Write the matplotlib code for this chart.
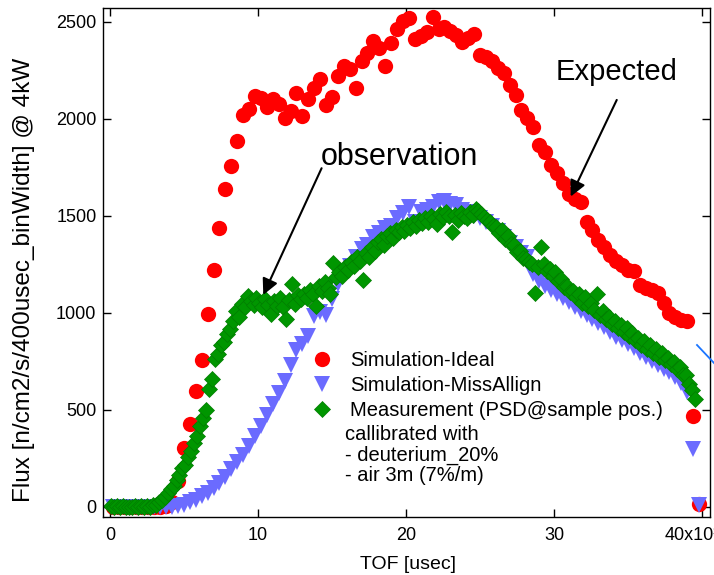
import numpy as np
import matplotlib.pyplot as plt
from matplotlib.lines import Line2D

plt.rcParams['font.family'] = ['Liberation Sans', 'DejaVu Sans']

# time bins [usec x10^3], 0.4 steps for the simulations, 0.2 for the measurement
sim_tof = np.arange(0.2, 40.0, 0.4)
meas_tof = np.arange(0.1, 39.6, 0.2)

red_flux = [
    0, 0, 0, 0, 0, 0, 0, 0, 0, 5,
    25, 135, 306, 426, 598, 756, 993, 1220, 1438, 1637,
    1758, 1886, 2020, 2052, 2117, 2107, 2064, 2101, 2077, 2005,
    2043, 2132, 2015, 2101, 2158, 2205, 2070, 2113, 2222, 2272,
    2257, 2158, 2298, 2342, 2402, 2368, 2273, 2390, 2464, 2505,
    2519, 2411, 2430, 2450, 2528, 2464, 2476, 2455, 2433, 2399,
    2416, 2438, 2330, 2320, 2300, 2265, 2235, 2175, 2124, 2046,
    2003, 1960, 1866, 1831, 1763, 1720, 1672, 1613, 1585, 1574,
    1470, 1428, 1376, 1342, 1299, 1270, 1247, 1222, 1215, 1144,
    1130, 1120, 1101, 1050, 1000, 981, 963, 960, 470, 15,
]

blue_flux = [
    0, 0, 0, 0, 0, 0, 0, 0, 0, 0,
    2, 5, 12, 24, 38, 55, 72, 98, 124, 153,
    193, 231, 270, 313, 365, 416, 476, 528, 588, 648,
    730, 810, 840, 880, 985, 1007, 990, 1070, 1150, 1200,
    1240, 1290, 1330, 1350, 1390, 1410, 1440, 1450, 1490, 1515,
    1548, 1470, 1520, 1530, 1545, 1574, 1575, 1560, 1555, 1530,
    1520, 1500, 1490, 1470, 1450, 1420, 1390, 1360, 1340, 1310,
    1290, 1200, 1165, 1140, 1120, 1100, 1078, 1055, 1030, 1010,
    990, 968, 948, 928, 900, 878, 858, 838, 818, 795,
    772, 750, 730, 712, 695, 672, 640, 590, 300, 10,
]

green_flux = [
    5, 0, 3, 0, 4, 0, 2, 0, 5, 0,
    3, 0, 6, 2, 8, 12, 25, 38, 50, 70,
    90, 110, 140, 165, 200, 215, 255, 290, 330, 365,
    415, 460, 500, 610, 660, 760, 790, 835, 850, 890,
    915, 960, 1010, 980, 1045, 1030, 1085, 1060, 1040, 1075,
    1050, 1030, 1070, 1040, 995, 1060, 1035, 1075, 1030, 970,
    1065, 1150, 1045, 1090, 1070, 1100, 1075, 1120, 1095, 1035,
    1140, 1115, 1160, 1130, 1100, 1255, 1185, 1210, 1190, 1235,
    1220, 1265, 1240, 1290, 1270, 1170, 1310, 1290, 1340, 1320,
    1365, 1380, 1350, 1395, 1410, 1385, 1430, 1415, 1445, 1420,
    1455, 1440, 1470, 1450, 1480, 1465, 1490, 1470, 1500, 1485,
    1460, 1510, 1495, 1520, 1500, 1415, 1505, 1480, 1515, 1500,
    1490, 1520, 1505, 1535, 1525, 1510, 1495, 1480, 1470, 1450,
    1445, 1410, 1425, 1380, 1395, 1355, 1350, 1315, 1320, 1285,
    1280, 1265, 1250, 1105, 1235, 1340, 1250, 1215, 1225, 1190,
    1210, 1165, 1175, 1135, 1140, 1110, 1115, 1080, 1095, 1050,
    1080, 1035, 1050, 1015, 1095, 990, 1010, 970, 980, 945,
    960, 920, 940, 900, 920, 880, 895, 860, 870, 835,
    855, 815, 835, 795, 815, 775, 795, 755, 770, 735,
    745, 710, 720, 680, 680, 635, 605, 555,
]

x_ticks = [0, 10, 20, 30, 40]
x_ticklabels = ['0', '10', '20', '30', '']
y_ticks = [0, 500, 1000, 1500, 2000, 2500]

fig = plt.figure(figsize=(7.14, 5.75), dpi=100)
ax = fig.add_axes([0.1438, 0.1009, 0.8506, 0.8852])

ax.plot(sim_tof, red_flux, 'o', color='#ff0000', ms=11, mew=0,
        label='Simulation-Ideal')
ax.plot(sim_tof, blue_flux, 'v', color='#6b6bff', ms=11, mew=0,
        label='Simulation-MissAllign')
ax.plot(meas_tof, green_flux, 'D', color='#009600', mec='#007d00', ms=8, mew=0.5,
        label='Measurement (PSD@sample pos.)')

ax.set_xlim(-0.49, 40.54)
ax.set_ylim(-52, 2572)
ax.set_xticks(x_ticks)
ax.set_xticklabels(x_ticklabels)
ax.set_yticks(y_ticks)
ax.tick_params(direction='in', top=True, right=True, length=6, width=1,
               labelsize=13)
ax.tick_params(axis='x', pad=7)
ax.tick_params(axis='y', pad=4.5)
for s in ax.spines.values():
    s.set_linewidth(1.0)

fig.text(665 / 714, 1 - 536 / 575, '40x10³', fontsize=13, ha='left', va='center')

ax.set_xlabel('TOF [usec]', fontsize=14)
ax.xaxis.set_label_coords(0.5027, -0.077)
ax.set_ylabel('Flux [n/cm2/s/400usec_binWidth] @ 4kW', fontsize=17.5)
ax.yaxis.set_label_coords(-0.112, 0.4656)

# annotations
ax.text(19.53, 1804, 'observation', fontsize=22, ha='center', va='center')
ax.annotate('', xy=(10.36, 1093), xytext=(14.3, 1746),
            arrowprops=dict(arrowstyle='-|>', color='k', lw=1.5,
                            mutation_scale=24, shrinkA=0, shrinkB=0))
ax.text(34.26, 2242, 'Expected', fontsize=21, ha='center', va='center')
ax.annotate('', xy=(31.13, 1600), xytext=(34.24, 2098),
            arrowprops=dict(arrowstyle='-|>', color='k', lw=1.5,
                            mutation_scale=24, shrinkA=0, shrinkB=0))

ax.legend(loc='upper left', bbox_to_anchor=(312 / 714, 1 - 351 / 575),
          bbox_transform=fig.transFigure, frameon=False, fontsize=14.5,
          handlelength=1.0, handletextpad=0.9, borderpad=0, borderaxespad=0,
          labelspacing=0.3)
fig.text(345 / 714, 1 - 455 / 575,
         'callibrated with\n- deuterium_20%\n- air 3m (7%/m)',
         fontsize=14.5, ha='left', va='center', linespacing=1.1)

# stray blue stroke at the right edge
fig.add_artist(Line2D([697 / 714, 1.0], [1 - 345 / 575, 1 - 363 / 575],
                      color='#1a75ff', lw=1.3))

fig.savefig('out.png', dpi=100)
